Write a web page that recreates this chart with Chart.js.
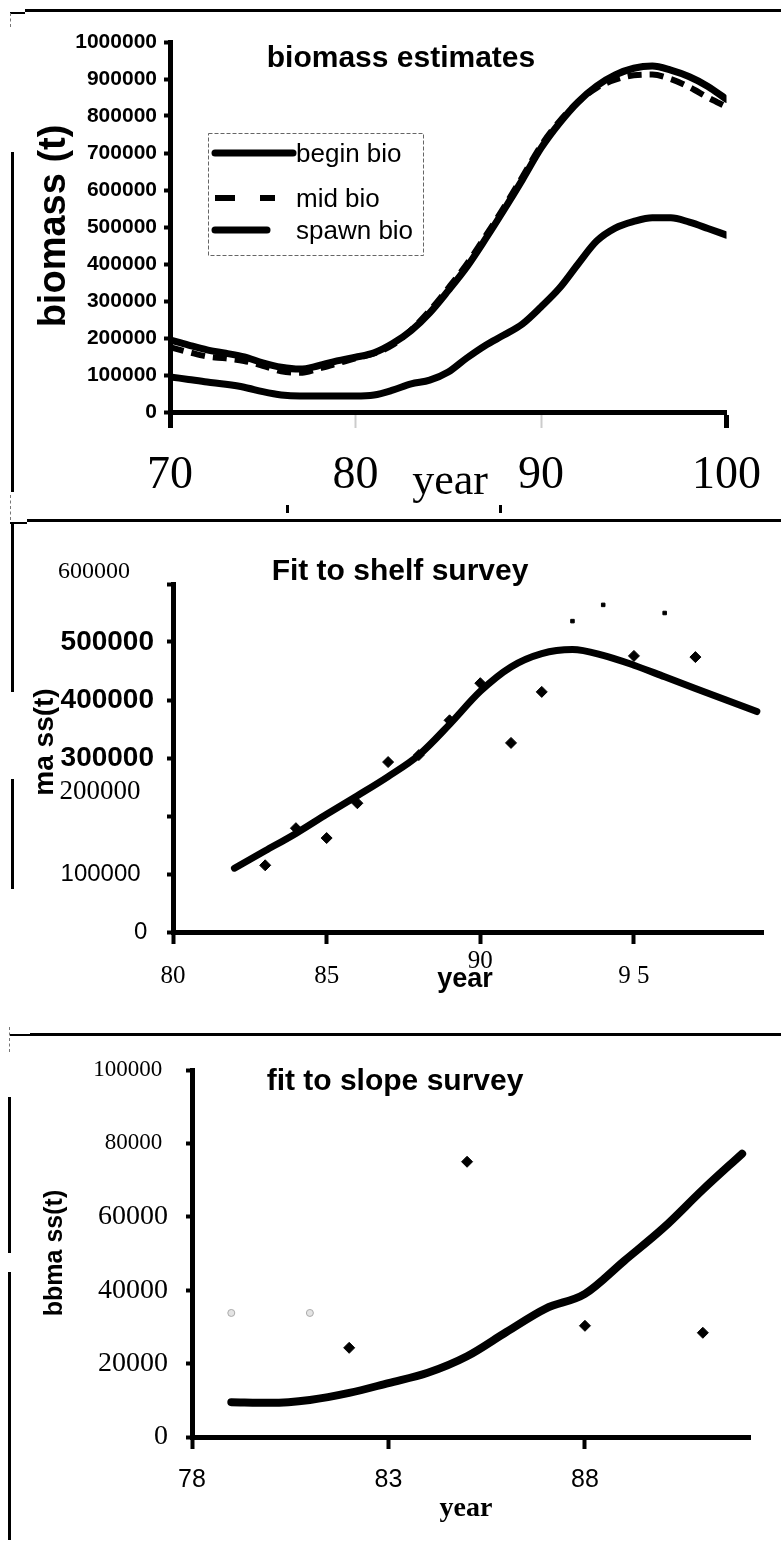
<!DOCTYPE html>
<html>
<head>
<meta charset="utf-8">
<title>Biomass estimates and survey fits</title>
<script src="https://cdn.jsdelivr.net/npm/chart.js@4.4.1/dist/chart.umd.min.js"></script>
<style>
  html, body { margin: 0; padding: 0; background: #fff; }
  #page { position: relative; width: 781px; height: 1544px; overflow: hidden; background: #fff; }
  #page canvas { position: absolute; left: 0; }
  .rule { position: absolute; background: #000; }
  .dash { position: absolute; width: 0; border-left: 1px dashed #777; }
</style>
</head>
<body>
<div id="page">
  <!-- page rules around the three panels -->
  <div class="rule" style="left:25px;top:9px;width:756px;height:3px"></div>
  <div class="rule" style="left:10px;top:12px;width:15px;height:2px"></div>
  <div class="dash" style="left:10px;top:13px;height:14px"></div>
  <div class="rule" style="left:11px;top:152px;width:3px;height:340px"></div>
  <div class="dash" style="left:10px;top:495px;height:25px"></div>
  <div class="rule" style="left:286px;top:505px;width:3px;height:8px"></div>
  <div class="rule" style="left:499px;top:505px;width:3px;height:8px"></div>

  <div class="rule" style="left:27px;top:519px;width:754px;height:3px"></div>
  <div class="rule" style="left:10px;top:522px;width:17px;height:2px"></div>
  <div class="rule" style="left:11px;top:522px;width:3px;height:170px"></div>
  <div class="rule" style="left:11px;top:779px;width:3px;height:110px"></div>

  <div class="rule" style="left:30px;top:1033px;width:751px;height:3px"></div>
  <div class="rule" style="left:10px;top:1034px;width:20px;height:2px"></div>
  <div class="dash" style="left:9px;top:1027px;height:25px"></div>
  <div class="rule" style="left:8px;top:1097px;width:3px;height:156px"></div>
  <div class="rule" style="left:8px;top:1272px;width:3px;height:268px"></div>

  <canvas id="bio-chart" width="781" height="520" style="top:0"></canvas>
  <canvas id="shelf-chart" width="781" height="514" style="top:520px"></canvas>
  <canvas id="slope-chart" width="781" height="510" style="top:1034px"></canvas>
</div>
<script>
// --- DATA ---
// biomass estimates (t) by year
const bioYears = [70, 71, 72, 73, 74, 75, 76, 77, 78, 79, 80, 81, 82, 83, 84, 85,
    86, 87, 88, 89, 90, 91, 92, 93, 94, 95, 96, 97, 98, 99, 100];
const beginBio = [195000, 181000, 168000, 159000, 149000, 133000, 121000, 116000, 125000, 138000,
    148000, 160000, 185000, 220000, 268000, 328000, 392000, 467000, 546000, 628000,
    713000, 781000, 838000, 881000, 911000, 929000, 935000, 924000, 906000, 880000, 845000];
const midBio = [175000, 162000, 150000, 145000, 138000, 125000, 110000, 106000, 117000, 131000,
    145000, 158000, 181000, 222000, 274000, 335000, 400000, 475000, 553000, 636000,
    720000, 786000, 838000, 876000, 898000, 910000, 912000, 900000, 878000, 850000, 825000];
const spawnBio = [95000, 88000, 81000, 75000, 67000, 55000, 46000, 43000, 43000, 43000,
    43000, 46000, 59000, 76000, 86000, 108000, 146000, 180000, 208000, 238000,
    284000, 335000, 400000, 462000, 497000, 515000, 525000, 525000, 513000, 496000, 478000];
const bioTicks = [70, 80, 90, 100];

// shelf survey: model fit and observations
const shelfFitYears = [82, 83, 84, 85, 86, 87, 88, 89, 90, 91, 92, 93, 94, 95, 96, 97, 98, 99];
const shelfFit = [110000, 140000, 170000, 203000, 235000, 268000, 305000, 358000, 415000,
    457000, 480000, 487000, 477000, 460000, 440000, 420000, 400000, 380000];
const shelfObsYears = [83, 84, 85, 86, 87, 88, 89, 90, 91, 92, 95, 97];
const shelfObs = [115000, 179000, 162000, 222000, 293000, 305000, 365000, 429000, 326000,
    414000, 476000, 474000];
const shelfFaintYears = [93, 94, 96];
const shelfFaint = [536000, 564000, 550000];
const shelfTicks = [80, 85, 90, 95];

// slope survey: model fit and observations
const slopeFitYears = [79, 80, 81, 82, 83, 84, 85, 86, 87, 88, 89, 90, 91, 92];
const slopeFit = [9500, 9300, 10100, 12000, 14700, 17500, 22000, 28600, 35000, 39000,
    48000, 57000, 67400, 77200];
const slopeObsYears = [82, 85, 88, 91];
const slopeObs = [24300, 75000, 30300, 28400];
const slopeFaintYears = [79, 81];
const slopeFaint = [33800, 33800];
const slopeTicks = [78, 83, 88];

// --- HELPERS ---
const SANS = '"Liberation Sans", Arial, sans-serif';
const SERIF = '"Liberation Serif", "Times New Roman", serif';

const toPoints = (xs, ys) => xs.map((x, i) => ({ x: x, y: ys[i] }));

const fitLine = (label, xs, ys, extra) => Object.assign({
    label: label,
    data: toPoints(xs, ys),
    showLine: true,
    borderColor: '#000',
    backgroundColor: '#000',
    borderWidth: 7,
    borderCapStyle: 'round',
    borderJoinStyle: 'round',
    cubicInterpolationMode: 'monotone',
    pointRadius: 0
}, extra || {});

const obsPoints = (label, xs, ys, extra) => Object.assign({
    label: label,
    data: toPoints(xs, ys),
    showLine: false,
    pointStyle: 'rectRot',
    pointRadius: 5.5,
    borderWidth: 1,
    borderColor: '#000',
    backgroundColor: '#000'
}, extra || {});

const tickValue = ctx => (ctx.tick ? ctx.tick.value : null);

// free text: titles and axis names
const pageText = {
    id: 'pageText',
    afterDraw(chart, args, opts) {
        const ctx = chart.ctx;
        (opts.items || []).forEach(t => {
            ctx.save();
            ctx.font = t.font;
            ctx.fillStyle = '#000';
            ctx.textAlign = 'center';
            ctx.textBaseline = 'alphabetic';
            ctx.translate(t.x, t.y);
            if (t.rotate) ctx.rotate(t.rotate);
            ctx.fillText(t.text, 0, 0);
            ctx.restore();
        });
    }
};

// legend in a dashed box, samples taken from the dataset styles
const boxLegend = {
    id: 'boxLegend',
    afterDraw(chart, args, opts) {
        if (!opts.rows) return;
        const ctx = chart.ctx;
        ctx.save();
        ctx.fillStyle = '#fff';
        ctx.fillRect(opts.left, opts.top, opts.width, opts.height);
        ctx.lineWidth = 1;
        ctx.strokeStyle = '#666';
        ctx.setLineDash([4, 2]);
        ctx.strokeRect(opts.left + 0.5, opts.top + 0.5, opts.width, opts.height);
        ctx.font = opts.font;
        ctx.textBaseline = 'middle';
        chart.data.datasets.forEach((ds, i) => {
            const row = opts.rows[i];
            const y = opts.top + row.dy;
            ctx.strokeStyle = ds.borderColor;
            ctx.lineWidth = ds.borderWidth;
            ctx.lineCap = row.dash ? 'butt' : 'round';
            ctx.setLineDash(row.dash || []);
            ctx.beginPath();
            ctx.moveTo(opts.left + 7, y);
            ctx.lineTo(opts.left + 7 + row.sample, y);
            ctx.stroke();
            ctx.setLineDash([]);
            ctx.fillStyle = '#000';
            ctx.fillText(ds.label, opts.textX, y + 2);
        });
        ctx.restore();
    }
};

Chart.register(pageText, boxLegend);
Chart.defaults.font.family = SANS;
Chart.defaults.color = '#000';

const baseOptions = {
    responsive: false,
    animation: false,
    devicePixelRatio: 1,
    events: []
};

document.addEventListener('DOMContentLoaded', () => {

    // --- BIOMASS ESTIMATES ---
    new Chart(document.getElementById('bio-chart'), {
        type: 'scatter',
        data: {
            datasets: [
                fitLine('begin bio', bioYears, beginBio),
                fitLine('mid bio', bioYears, midBio, { borderWidth: 6, borderDash: [14, 8], borderCapStyle: 'butt' }),
                fitLine('spawn bio', bioYears, spawnBio)
            ]
        },
        options: Object.assign({}, baseOptions, {
            layout: { padding: { top: 42, right: 38, left: 0, bottom: 0 } },
            plugins: {
                legend: { display: false },
                tooltip: { enabled: false },
                boxLegend: {
                    left: 208, top: 133, width: 215, height: 122,
                    textX: 296, font: '26px ' + SANS,
                    rows: [{ dy: 20, sample: 78 }, { dy: 65, sample: 60, dash: [20, 25] }, { dy: 97, sample: 52 }]
                },
                pageText: {
                    items: [
                        { text: 'biomass estimates', font: 'bold 30px ' + SANS, x: 401, y: 67 },
                        { text: 'biomass (t)', font: 'bold 38px ' + SANS, x: 65, y: 226, rotate: -Math.PI / 2 },
                        { text: 'year', font: '44px ' + SERIF, x: 450, y: 494 }
                    ]
                }
            },
            scales: {
                x: {
                    type: 'linear', min: 70, max: 100,
                    afterBuildTicks: s => { s.ticks = bioTicks.map(v => ({ value: v })); },
                    afterFit: s => { s.height = 108; },
                    border: { display: true, color: '#000', width: 5 },
                    grid: {
                        drawOnChartArea: false, tickLength: 16,
                        tickWidth: ctx => ([70, 100].includes(tickValue(ctx)) ? 5 : 2),
                        tickColor: ctx => ([70, 100].includes(tickValue(ctx)) ? '#000' : '#ccc')
                    },
                    ticks: { font: { family: SERIF, size: 46 }, padding: 20, maxRotation: 0, autoSkip: false, callback: v => String(v) }
                },
                y: {
                    min: 0, max: 1000000,
                    afterFit: s => { s.width = 170; },
                    border: { display: true, color: '#000', width: 5 },
                    grid: { drawOnChartArea: false, tickLength: 6, tickWidth: 4, tickColor: '#000' },
                    ticks: { stepSize: 100000, font: { family: SANS, size: 21, weight: 'bold' }, padding: 7, autoSkip: false, callback: v => String(v) }
                }
            }
        })
    });

    // --- SHELF SURVEY ---
    // tick labels of this axis come in mixed type faces
    const shelfYFont = v => {
        if (v === 600000) return { family: SERIF, size: 24, lineHeight: '24px' };
        if (v === 200000) return { family: SERIF, size: 27, lineHeight: '48px' };
        if (v >= 300000) return { family: SANS, size: 28, weight: 'bold' };
        return { family: SANS, size: 24 };
    };
    const shelfYLabel = v => {
        if (v === 600000) return ['600000    ', ''];
        if (v === 200000) return ['200000  ', ''];
        if (v === 100000) return '100000  ';
        if (v === 0) return '0 ';
        return String(v);
    };

    new Chart(document.getElementById('shelf-chart'), {
        type: 'scatter',
        data: {
            datasets: [
                obsPoints('shelf survey', shelfObsYears, shelfObs),
                obsPoints('shelf survey (faint)', shelfFaintYears, shelfFaint, { pointStyle: 'rect', pointRadius: 2.5 }),
                fitLine('shelf fit', shelfFitYears, shelfFit)
            ]
        },
        options: Object.assign({}, baseOptions, {
            layout: { padding: { top: 64, right: 18, left: 0, bottom: 0 } },
            plugins: {
                legend: { display: false },
                tooltip: { enabled: false },
                pageText: {
                    items: [
                        { text: 'Fit to shelf survey', font: 'bold 30px ' + SANS, x: 400, y: 60 },
                        { text: 'ma ss(t)', font: 'bold 28px ' + SANS, x: 53, y: 222, rotate: -Math.PI / 2 },
                        { text: 'year', font: 'bold 27px ' + SANS, x: 465, y: 467 }
                    ]
                }
            },
            scales: {
                x: {
                    type: 'linear', min: 80, max: 99.2,
                    afterBuildTicks: s => { s.ticks = shelfTicks.map(v => ({ value: v })); },
                    afterFit: s => { s.height = 102; },
                    border: { display: true, color: '#000', width: 5 },
                    grid: { drawOnChartArea: false, tickLength: 12, tickWidth: 4, tickColor: '#000' },
                    ticks: {
                        font: ctx => (tickValue(ctx) === 90
                            ? { family: SERIF, size: 25, lineHeight: '0px' }
                            : { family: SERIF, size: 25 }),
                        padding: 17, maxRotation: 0, autoSkip: false,
                        callback: v => (v === 95 ? '9 5' : String(v))
                    }
                },
                y: {
                    min: 0, max: 600000,
                    afterFit: s => { s.width = 173; },
                    border: { display: true, color: '#000', width: 5 },
                    grid: { drawOnChartArea: false, tickLength: 6, tickWidth: 4, tickColor: '#000' },
                    ticks: { stepSize: 100000, font: ctx => shelfYFont(tickValue(ctx)), padding: 13, autoSkip: false, callback: shelfYLabel }
                }
            }
        })
    });

    // --- SLOPE SURVEY ---
    new Chart(document.getElementById('slope-chart'), {
        type: 'scatter',
        data: {
            datasets: [
                obsPoints('slope survey', slopeObsYears, slopeObs),
                obsPoints('slope survey (faint)', slopeFaintYears, slopeFaint, {
                    pointStyle: 'circle', pointRadius: 3.5, borderColor: '#aaa', backgroundColor: '#e4e4e4'
                }),
                fitLine('slope fit', slopeFitYears, slopeFit, { borderWidth: 8 })
            ]
        },
        options: Object.assign({}, baseOptions, {
            layout: { padding: { top: 36, right: 31, left: 0, bottom: 0 } },
            plugins: {
                legend: { display: false },
                tooltip: { enabled: false },
                pageText: {
                    items: [
                        { text: 'fit to slope survey', font: 'bold 30px ' + SANS, x: 395, y: 56 },
                        { text: 'bbma ss(t)', font: 'bold 25px ' + SANS, x: 62, y: 219, rotate: -Math.PI / 2 },
                        { text: 'year', font: 'bold 28px ' + SERIF, x: 466, y: 482 }
                    ]
                }
            },
            scales: {
                x: {
                    type: 'linear', min: 78, max: 92.2,
                    afterBuildTicks: s => { s.ticks = slopeTicks.map(v => ({ value: v })); },
                    afterFit: s => { s.height = 107; },
                    border: { display: true, color: '#000', width: 5 },
                    grid: { drawOnChartArea: false, tickLength: 12, tickWidth: 4, tickColor: '#000' },
                    ticks: { font: { family: SANS, size: 25 }, padding: 16, maxRotation: 0, autoSkip: false, callback: v => String(v) }
                },
                y: {
                    min: 0, max: 100000,
                    afterFit: s => { s.width = 192; },
                    border: { display: true, color: '#000', width: 5 },
                    grid: { drawOnChartArea: false, tickLength: 6, tickWidth: 4, tickColor: '#000' },
                    ticks: {
                        stepSize: 20000, padding: 18, autoSkip: false,
                        font: ctx => (tickValue(ctx) >= 80000 ? { family: SERIF, size: 23 } : { family: SERIF, size: 28 }),
                        callback: v => (v >= 80000 ? v + ' ' : String(v))
                    }
                }
            }
        })
    });
});
</script>
</body>
</html>
